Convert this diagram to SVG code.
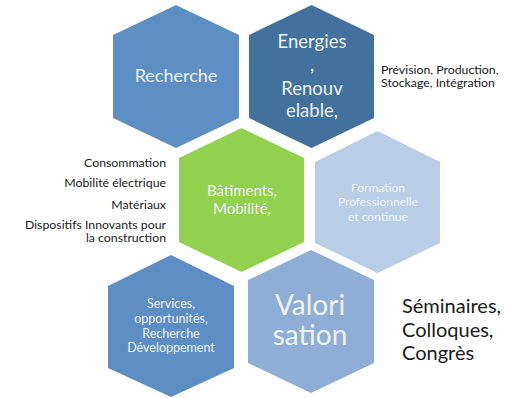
<svg xmlns="http://www.w3.org/2000/svg" width="521" height="398" viewBox="0 0 521 398">
<style>
text{font-family:Lato,"Liberation Sans",sans-serif}
.in{fill:#EEF3F9;text-anchor:middle}
.out{fill:#1a1a1a}
.sm{font-size:12.3px}
</style>
<rect width="521" height="398" fill="#fff"/>
<g id="recherche">
<polygon points="176,5 239,35 239,118 176,148 113,118 113,35" fill="#5E8FC2"/>
<text class="in" x="176" y="82" font-size="18">Recherche</text>
</g>
<g id="energies">
<polygon points="311.5,5 374,35 374,118 311.5,148 249,118 249,35" fill="#41719C"/>
<text class="in" x="312" y="48" font-size="18.5">Energies</text>
<text class="in" x="312" y="71" font-size="18.5">,</text>
<text class="in" x="312" y="95" font-size="18.5">Renouv</text>
<text class="in" x="312" y="117" font-size="18.5">elable,</text>
</g>
<g id="batiments">
<polygon points="241.5,128 304,158 304,242 241.5,272 179,242 179,158" fill="#92D050"/>
<text class="in" x="242" y="196" font-size="15">Bâtiments,</text>
<text class="in" x="242" y="214" font-size="15">Mobilité,</text>
</g>
<g id="formation">
<polygon points="377.5,131 440,162 440,243 377.5,273 315,243 315,162" fill="#BACDE7"/>
<text class="in" x="378" y="192" font-size="12">Formation</text>
<text class="in" x="378" y="206" font-size="12">Professionnelle</text>
<text class="in" x="378" y="221" font-size="12">et continue</text>
</g>
<g id="services">
<polygon points="171,255 234,286 234,368 171,397 108,368 108,286" fill="#5C8DC3"/>
<text class="in" x="171" y="308" font-size="12.5">Services,</text>
<text class="in" x="171" y="323" font-size="12.5">opportunités,</text>
<text class="in" x="171" y="338" font-size="12.5">Recherche</text>
<text class="in" x="171" y="352" font-size="12.5">Développement</text>
</g>
<g id="valorisation">
<polygon points="311,250 374,280 374,363 311,393 248,363 248,280" fill="#8EAED6"/>
<text class="in" x="310" y="315" font-size="28">Valori</text>
<text class="in" x="310" y="345" font-size="28">sation</text>
</g>
<g id="labels">
<text class="out sm" x="381" y="74">Prévision, Production,</text>
<text class="out sm" x="381" y="87">Stockage, Intégration</text>
<text class="out sm" x="166" y="167" text-anchor="end">Consommation</text>
<text class="out sm" x="166" y="187" text-anchor="end">Mobilité électrique</text>
<text class="out sm" x="166" y="209" text-anchor="end">Matériaux</text>
<text class="out sm" x="166" y="229" text-anchor="end">Dispositifs Innovants pour</text>
<text class="out sm" x="166" y="242" text-anchor="end">la construction</text>
<text class="out" x="402" y="313" font-size="20">Séminaires,</text>
<text class="out" x="402" y="337" font-size="20">Colloques,</text>
<text class="out" x="402" y="360" font-size="20">Congrès</text>
</g>
<g id="connectors"/>
</svg>
